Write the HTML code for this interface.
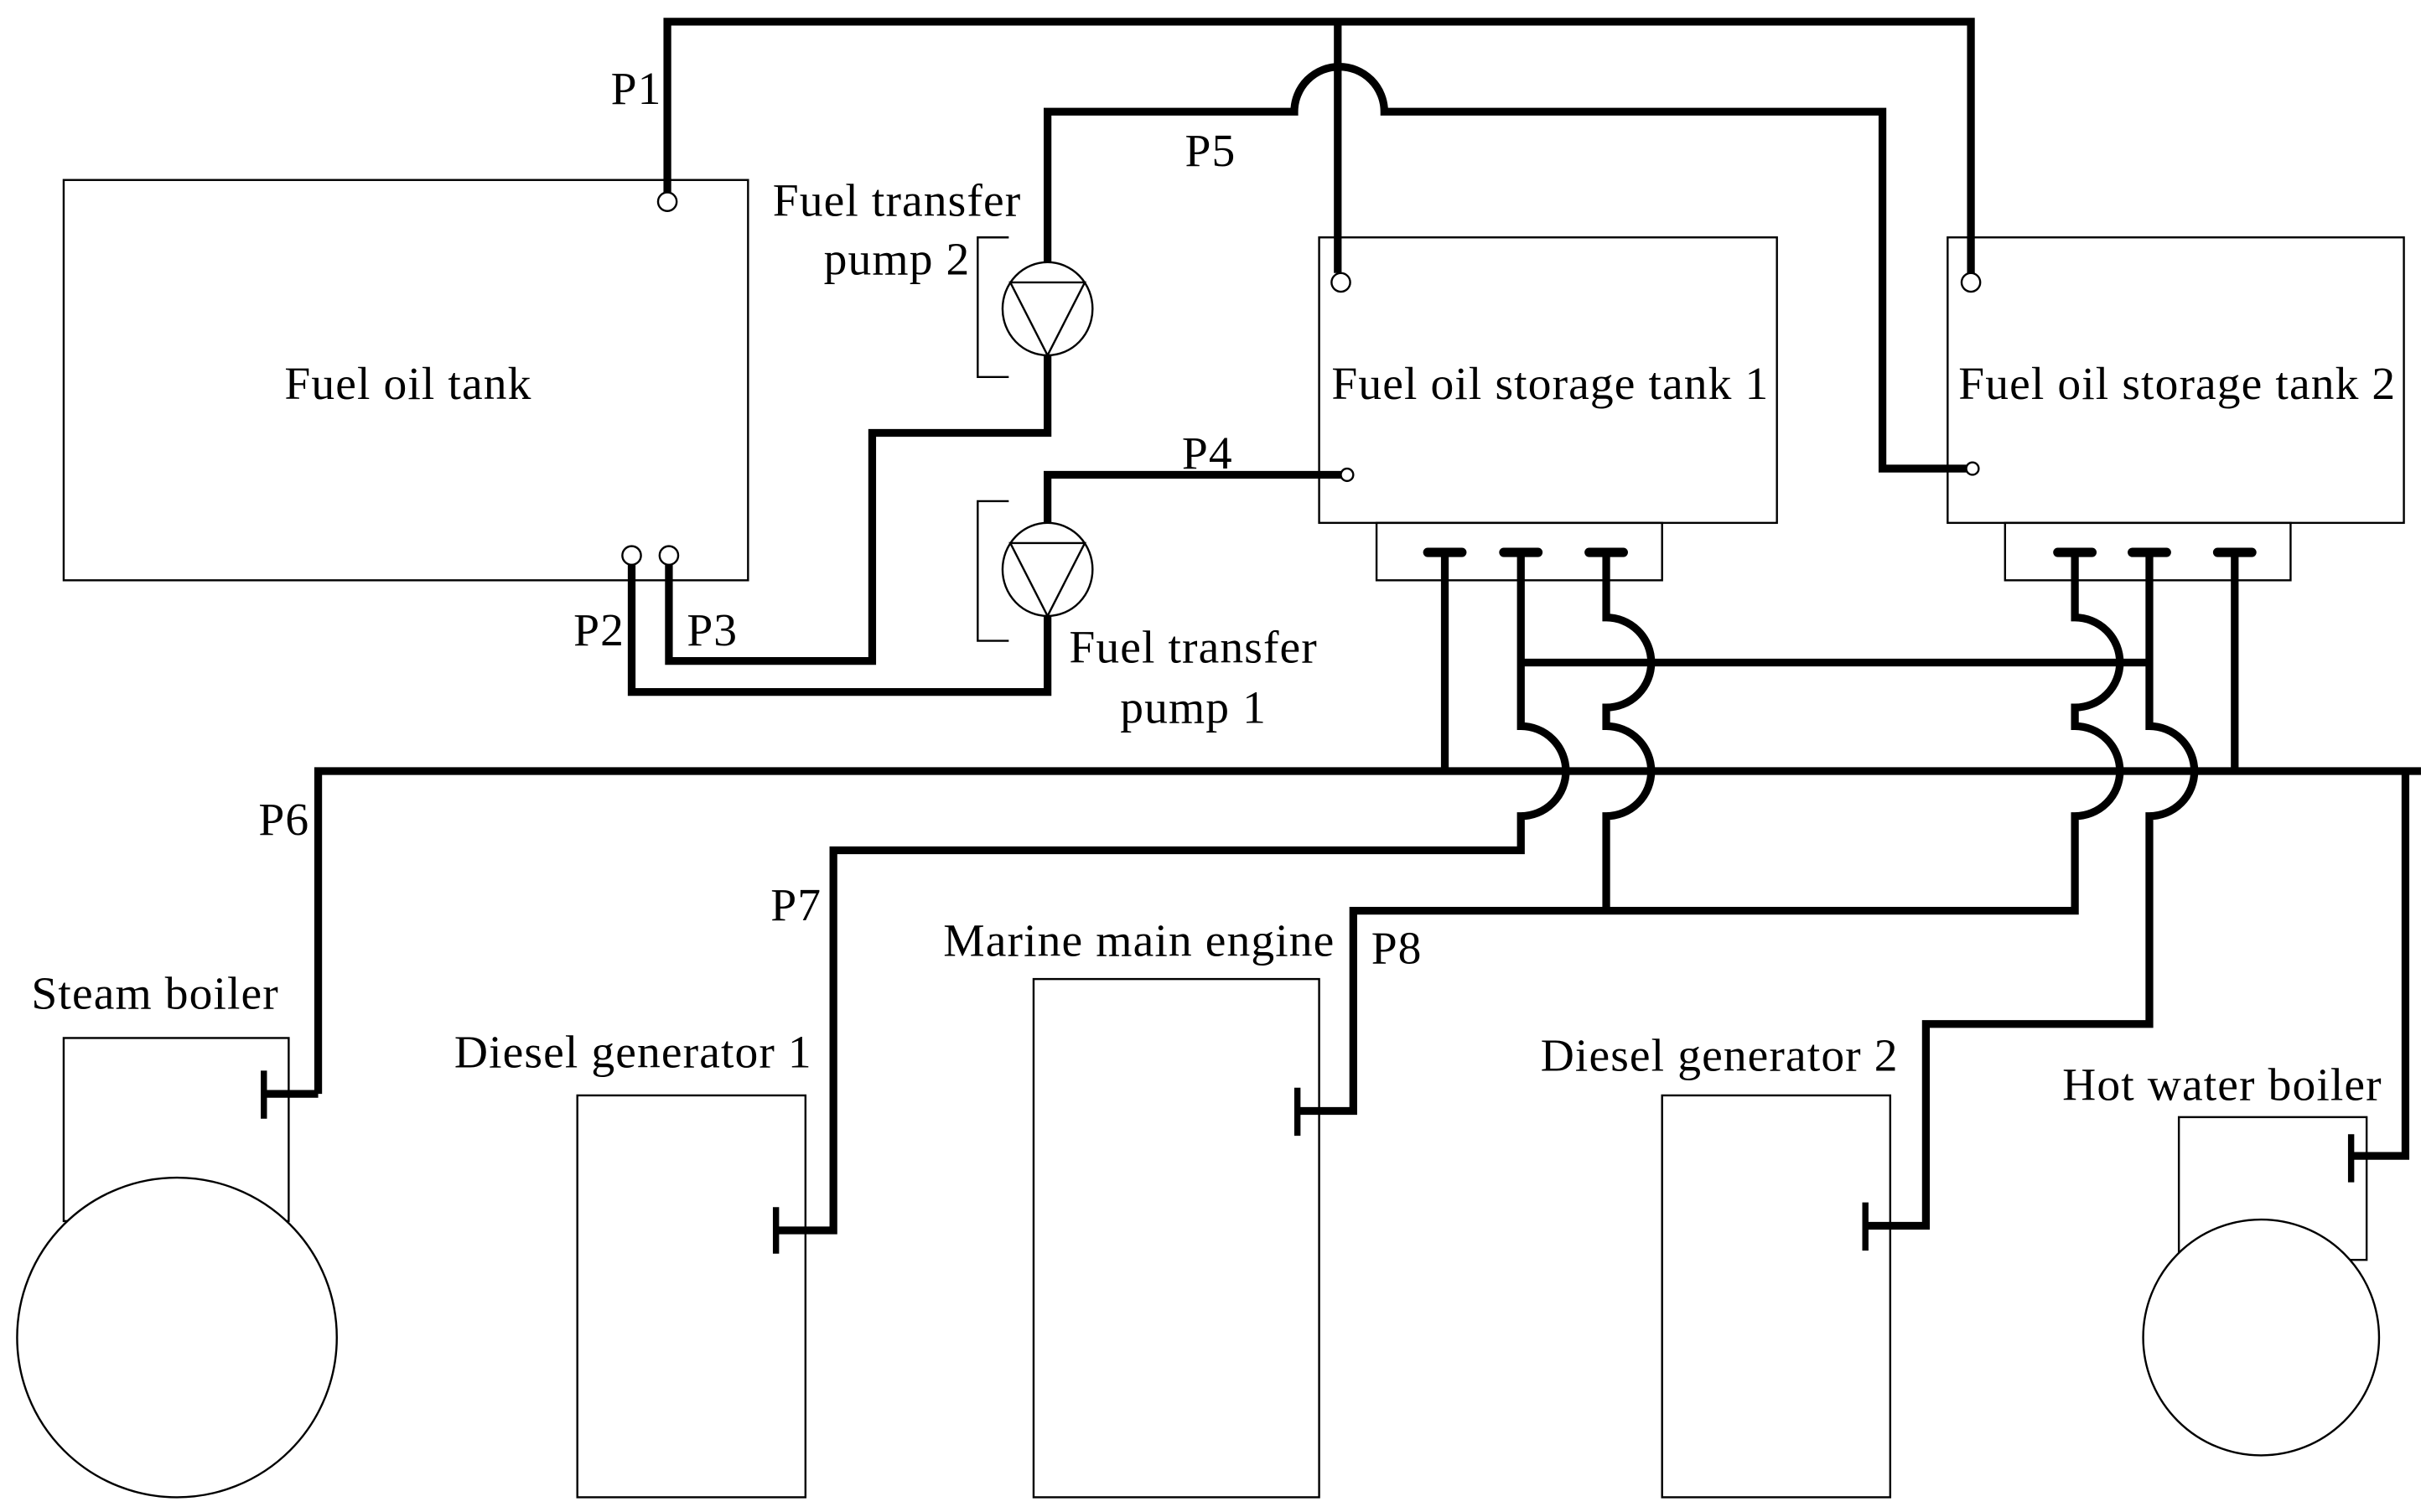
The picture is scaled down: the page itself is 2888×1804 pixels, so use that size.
<!DOCTYPE html>
<html><head><meta charset="utf-8"><style>html,body{margin:0;padding:0;background:#fff}svg{display:block}</style></head><body>
<svg width="2888" height="1804" viewBox="0 0 1560 974.5" xmlns="http://www.w3.org/2000/svg">
<rect width="1560" height="974.5" fill="#fff"/>
<g fill="none" stroke="#000" stroke-width="1.3">
<rect x="41" y="116" width="441" height="258"/>
<rect x="850" y="153" width="295" height="184"/>
<rect x="887" y="337" width="184" height="37"/>
<rect x="1255" y="153" width="294" height="184"/>
<rect x="1292" y="337" width="184" height="37"/>
<rect x="41" y="669" width="145" height="118"/>
<circle cx="114" cy="862" r="103" fill="#fff"/>
<rect x="372" y="706" width="147" height="259"/>
<rect x="666" y="631" width="184" height="334"/>
<rect x="1071" y="706" width="147" height="259"/>
<rect x="1404" y="720" width="121" height="92"/>
<circle cx="1457" cy="862" r="76" fill="#fff"/>
<circle cx="430" cy="130" r="6"/>
<circle cx="407" cy="358" r="6"/>
<circle cx="431" cy="358" r="6"/>
<circle cx="864" cy="182" r="6"/>
<circle cx="1270" cy="182" r="6"/>
<circle cx="868" cy="306" r="4"/>
<circle cx="1271" cy="302" r="4"/>
<ellipse cx="675" cy="199" rx="29" ry="30"/>
<path d="M651 182 H699 L675 229 Z"/>
<ellipse cx="675" cy="367" rx="29" ry="30"/>
<path d="M651 350 H699 L675 397 Z"/>
<path d="M650 153 H630 V243 H650"/>
<path d="M650 323 H630 V413 H650"/>
</g>
<g fill="none" stroke="#000" stroke-width="5" stroke-linejoin="miter">
<path d="M430 124 V14 H1270 V176"/>
<path d="M862 14 V176"/>
<path d="M675 169 V72 H834 A29 29 0 0 1 892 72 H1213 V302 H1267"/>
<path d="M675 229 V279 H562 V426 H431 V364"/>
<path d="M407 364 V446 H675 V397"/>
<path d="M675 337 V306 H864"/>
<path d="M205 705 V497 H1560"/>
<path d="M205 705 H170"/>
<path d="M931 356 V497"/>
<path d="M980 356 V468 A29 29 0 0 1 980 526 V548 H537 V793 H500"/>
<path d="M980 427 H1385"/>
<path d="M1035 356 V398 A29 29 0 0 1 1035 456 V468 A29 29 0 0 1 1035 526 V587"/>
<path d="M1337 356 V398 A29 29 0 0 1 1337 456 V468 A29 29 0 0 1 1337 526 V587 H872 V716 H836"/>
<path d="M1385 356 V468 A29 29 0 0 1 1385 526 V660 H1241 V790 H1202"/>
<path d="M1440 356 V497"/>
<path d="M1550 497 V745 H1515"/>
</g>
<g stroke="#000" stroke-width="6" stroke-linecap="round">
<path d="M920 356 H942 M969 356 H991 M1024 356 H1046"/>
<path d="M1326 356 H1348 M1374 356 H1396 M1429 356 H1451"/>
</g>
<g stroke="#000" stroke-width="4">
<path d="M170 690 V721 M500 778 V808 M836 701 V732 M1202 775 V806 M1515 731 V762"/>
</g>
<g font-family="'Liberation Serif', serif" font-size="30" letter-spacing="0.6" fill="#000" text-anchor="middle">
<text x="263" y="257">Fuel oil tank</text>
<text x="999" y="257">Fuel oil storage tank 1</text>
<text x="1403" y="257">Fuel oil storage tank 2</text>
<text x="578" y="139">Fuel transfer</text>
<text x="578" y="177">pump 2</text>
<text x="769" y="427">Fuel transfer</text>
<text x="769" y="466">pump 1</text>
<text x="410" y="67">P1</text>
<text x="780" y="107">P5</text>
<text x="778" y="302">P4</text>
<text x="386" y="416">P2</text>
<text x="459" y="416">P3</text>
<text x="183" y="538">P6</text>
<text x="513" y="593">P7</text>
<text x="900" y="621">P8</text>
<text x="100" y="650">Steam boiler</text>
<text x="408" y="688">Diesel generator 1</text>
<text x="734" y="616">Marine main engine</text>
<text x="1108" y="690">Diesel generator 2</text>
<text x="1432" y="709">Hot water boiler</text>
</g>
</svg>
</body></html>
